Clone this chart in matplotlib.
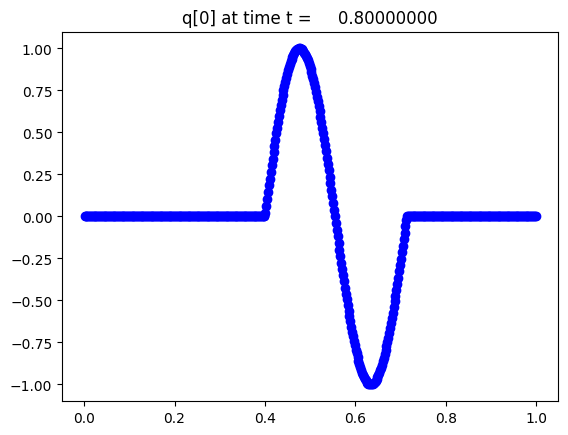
import numpy as np
import matplotlib
matplotlib.use('Agg')
import matplotlib.pyplot as plt

# grid: 500 cell centres on [0, 1]
mx = 500
x = (np.arange(mx) + 0.5) / mx

# values, cell by cell
q_left = [0.0] * 200          # x = 0.001 .. 0.399, flat
q_rise = [0.021, 0.062, 0.103, 0.144, 0.185, 0.225, 0.265, 0.305, 0.344, 0.383,
          0.421, 0.458, 0.494, 0.529, 0.564, 0.598, 0.631, 0.662, 0.692, 0.722,
          0.750, 0.776, 0.802, 0.826, 0.848, 0.869, 0.889, 0.907, 0.924, 0.939,
          0.952, 0.964, 0.974, 0.983, 0.990, 0.995, 0.998, 1.000]
q_fall = [1.000, 0.998, 0.995, 0.990, 0.984, 0.976, 0.967, 0.956, 0.943, 0.930,
          0.914, 0.897, 0.879, 0.859, 0.838, 0.816, 0.792, 0.768, 0.741, 0.714,
          0.686, 0.656, 0.626, 0.594, 0.562, 0.529, 0.494, 0.459, 0.424, 0.388,
          0.351, 0.313, 0.275, 0.237, 0.198, 0.159, 0.119, 0.080, 0.040, 0.000,
          -0.039, -0.079, -0.119, -0.158, -0.197, -0.236, -0.274, -0.313, -0.350, -0.387,
          -0.423, -0.459, -0.494, -0.528, -0.562, -0.594, -0.625, -0.656, -0.685, -0.714,
          -0.741, -0.767, -0.792, -0.815, -0.838, -0.859, -0.879, -0.897, -0.914, -0.929,
          -0.943, -0.956, -0.967, -0.976, -0.984, -0.990, -0.995, -0.998, -1.000]
q_back = [-1.000, -0.998, -0.995, -0.991, -0.984, -0.977, -0.968, -0.957, -0.945, -0.931,
          -0.916, -0.900, -0.882, -0.863, -0.842, -0.820, -0.797, -0.773, -0.747, -0.721,
          -0.693, -0.664, -0.635, -0.604, -0.572, -0.539, -0.506, -0.471, -0.436, -0.401,
          -0.364, -0.327, -0.290, -0.252, -0.214, -0.176, -0.137, -0.098, -0.059, -0.020]
q_right = [0.0] * 143         # x = 0.715 .. 0.999, flat

q = np.array(q_left + q_rise + q_fall + q_back + q_right)

title = 'q[0] at time t =     0.80000000'

fig, ax = plt.subplots(figsize=(6.4, 4.8), dpi=100)
ax.plot(x, q, 'bo')
ax.set_title(title)

plt.savefig('out.png', dpi=100, bbox_inches='tight')
